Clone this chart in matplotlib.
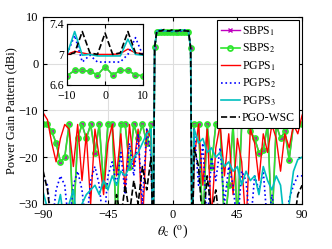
import numpy as np
import matplotlib
matplotlib.use('Agg')
import matplotlib.pyplot as plt

plt.rcParams['font.family'] = ['Liberation Serif', 'DejaVu Serif']
plt.rcParams['mathtext.fontset'] = 'stix'

# angle grid (deg): left sidelobes, main lobe, right sidelobes
theta_left = [-90, -87, -84, -81, -78, -75, -72, -69, -66, -63, -60, -57, -54,
              -51, -48, -45, -42, -39, -36, -33, -30, -27, -24, -21, -18, -15]
theta_lobe = [-13.5, -12.5, -11, -10, -8, -6, -4, -2, 0, 2, 4, 6, 8, 10, 11, 12.5, 13.5]
theta_right = [15, 18, 21, 24, 27, 30, 33, 36, 39, 42, 45, 48, 51,
               54, 57, 60, 63, 66, 69, 72, 75, 78, 81, 84, 87, 90]

# SBPS (both SBPS curves coincide)
sbps_left = [-13, -13, -14.5, -17, -21, -20, -13, -34, -16, -13, -16, -13, -19,
             -13, -26, -13, -13, -35, -13, -13, -22, -13, -16, -13, -17, -13]
sbps_lobe = [-40, 3.5, 6.72, 6.72, 6.79, 6.79, 6.78, 6.73, 6.84, 6.73, 6.79, 6.79,
             6.73, 6.72, 6.72, 3.4, -40]
sbps_right = [-13, -13, -35, -13, -22, -13, -13, -35, -26, -13, -34, -13, -13,
              -14.5, -16, -19, -18.5, -13, -35, -13, -16, -14.5, -20.5, -13, -13, -13]

pgps1_left = [-10.5, -12, -17, -21, -16, -13, -14, -22, -13, -25, -15, -30, -14,
              -20, -28, -17, -13, -24, -15, -27, -13, -22, -14, -35, -14, -16]
pgps1_lobe = [-40, 3.5, 7.0, 7.0, 7.04, 7.02, 7.0, 7.0, 7.0, 7.0, 7.01, 7.07,
              7.02, 7.01, 7.0, 3.5, -40]
pgps1_right = [-20, -13, -26, -14, -33, -18, -13, -24, -15, -28, -16, -21, -35,
               -14, -17, -25, -15, -19, -13, -16, -23, -15, -18, -13, -15, -11]

pgps2_left = [-24, -26, -35, -27, -24, -26, -35, -26, -23, -27, -35, -25, -22,
              -26, -35, -24, -21, -26, -19, -28, -17, -24, -15, -30, -14, -20]
pgps2_lobe = [-40, 3.5, 6.98, 7.0, 7.25, 6.9, 6.99, 6.9, 6.9, 6.9, 6.9, 7.0,
              7.22, 6.98, 6.98, 3.5, -40]
pgps2_right = [-14, -26, -17, -35, -20, -25, -18, -30, -22, -26, -35, -23, -25,
               -35, -24, -27, -23, -35, -28, -35, -30, -35, -29, -26, -24, -24]

pgps3_left = [-27.5, -31, -35, -32, -28, -35, -30, -27, -35, -30, -28, -27, -26,
              -28, -25, -27, -24, -26, -23, -24, -22, -20, -19, -17, -15, -14]
pgps3_lobe = [-40, 3.5, 7.0, 7.0, 7.3, 6.99, 7.0, 6.98, 6.98, 6.98, 6.98, 7.2,
              7.0, 6.99, 7.0, 3.5, -40]
pgps3_right = [-14, -17, -16, -19, -18, -20, -19, -22, -21, -23, -22, -26, -23,
               -25, -24, -28, -22, -25, -27, -24, -26, -35, -30, -23, -20.5, -20]

pgo_left = [-23, -27, -35, -40, -40, -40, -40, -40, -40, -40, -40, -40, -40,
            -40, -40, -40, -35, -28, -33, -26, -32, -25, -30, -22, -27, -20]
pgo_lobe = [-40, 3.5, 7.0, 7.0, 7.02, 7.3, 7.02, 7.0, 7.28, 7.0, 7.02, 7.3,
            7.02, 7.0, 7.0, 3.5, -40]
pgo_right = [-18, -22, -35, -24, -32, -27, -35, -30, -40, -40, -40, -40, -40,
             -40, -40, -40, -40, -40, -40, -40, -40, -40, -40, -35, -28, -26]

theta = np.array(theta_left + theta_lobe + theta_right)
sbps1 = np.array(sbps_left + sbps_lobe + sbps_right)
sbps2 = sbps1.copy()
pgps1 = np.array(pgps1_left + pgps1_lobe + pgps1_right)
pgps2 = np.array(pgps2_left + pgps2_lobe + pgps2_right)
pgps3 = np.array(pgps3_left + pgps3_lobe + pgps3_right)
pgo = np.array(pgo_left + pgo_lobe + pgo_right)

labels = ['SBPS$_1$', 'SBPS$_2$', 'PGPS$_1$', 'PGPS$_2$', 'PGPS$_3$', 'PGO-WSC']
green = '#2ee62e'


def draw(ax):
    ax.plot(theta, sbps1, color='m', marker='x', ms=2.5, mew=1.0, lw=1.0)
    ax.plot(theta, sbps2, color=green, marker='o', ms=3.6, mfc='none',
            mec=green, mew=1.3, lw=1.2)
    ax.plot(theta, pgps1, color='r', lw=1.0)
    ax.plot(theta, pgps2, color='b', ls=':', lw=1.2)
    ax.plot(theta, pgps3, color='c', lw=1.2)
    ax.plot(theta, pgo, color='k', ls='--', lw=1.2)


fig = plt.figure(figsize=(3.32, 2.49), dpi=100)
ax = fig.add_axes([0.130, 0.181, 0.780, 0.751])
draw(ax)
ax.set_xlim(-90, 90)
ax.set_ylim(-30, 10)
ax.set_xticks([-90, -45, 0, 45, 90])
ax.set_yticks([-30, -20, -10, 0, 10])
ax.grid(True, color='#dedede', lw=0.8)
ax.set_axisbelow(True)
ax.tick_params(direction='in', labelsize=9, length=3, top=True, right=True)
ax.set_xlabel(r'$\theta_\mathrm{c}$ ($^\mathrm{o}$)', fontsize=10, labelpad=1)
ax.set_ylabel('Power Gain Pattern (dBi)', fontsize=9, labelpad=1)
leg = ax.legend(labels, loc='upper right', fontsize=8.5, fancybox=False,
                framealpha=1, edgecolor='k', handlelength=1.6, handletextpad=0.2,
                labelspacing=0.35, borderaxespad=0.3, borderpad=0.3)
leg.get_frame().set_linewidth(0.8)

ins = fig.add_axes([0.202, 0.659, 0.229, 0.245])
draw(ins)
ins.set_xlim(-10, 10)
ins.set_ylim(6.6, 7.4)
ins.set_xticks([-10, 0, 10])
ins.set_yticks([6.6, 7, 7.4])
ins.set_yticklabels(['6.6', '7', '7.4'])
ins.grid(True, color='#dedede', lw=0.8)
ins.set_axisbelow(True)
ins.tick_params(direction='in', labelsize=8.5, length=3, top=True, right=True)
ins.tick_params(axis='x', pad=3.5)
ins.tick_params(axis='y', pad=2)

fig.savefig('out.png', dpi=100)
